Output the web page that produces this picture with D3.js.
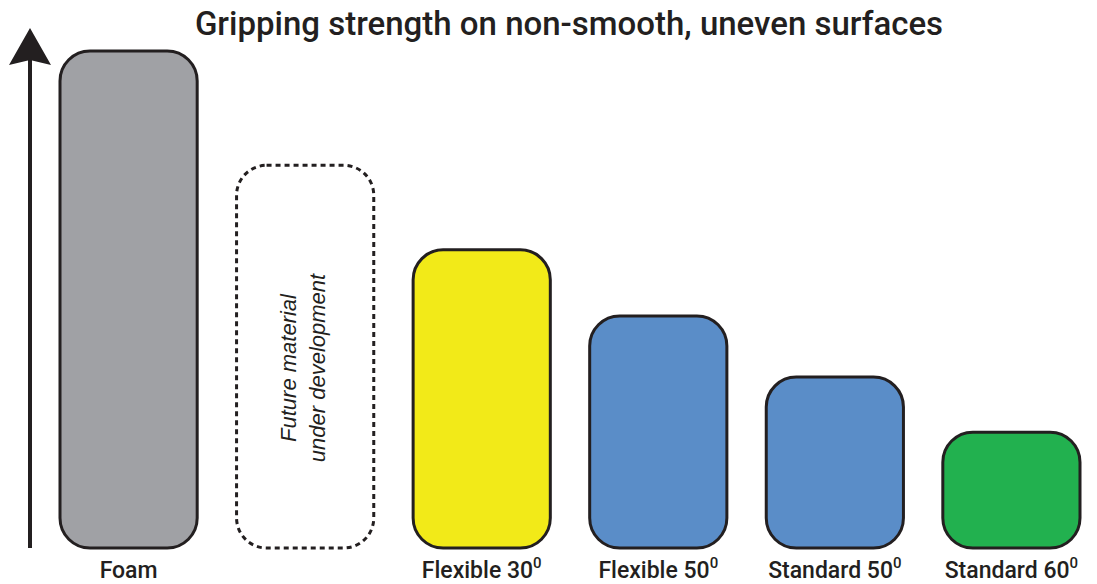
<!DOCTYPE html>
<html>
<head>
<meta charset="utf-8">
<script src="https://cdn.jsdelivr.net/npm/d3@7/dist/d3.min.js"></script>
<style>
  html, body { margin: 0; padding: 0; background: #fff; }
  text { font-family: Roboto, "Liberation Sans", Arial, sans-serif; fill: #231f20; }
</style>
</head>
<body>
<div id="chart"></div>
<script>
// chart data
const categories = ["Foam", "Future", "Flexible 30", "Flexible 50", "Standard 50", "Standard 60"];
const labels = ["Foam", "", "Flexible 30", "Flexible 50", "Standard 50", "Standard 60"];
const superscripts = ["", "", "0", "0", "0", "0"];
const values = [100, 77, 60, 46.7, 34.4, 23.3];
const fills = ["#a0a1a5", "none", "#f2ea18", "#5a8dc8", "#5a8dc8", "#22b14f"];
const dashed = [false, true, false, false, false, false];
const title = "Gripping strength on non-smooth, uneven surfaces";
const noteLines = ["Future material", "under development"];

const width = 1097;
const height = 584;
const baseY = 548;

const svg = d3.select("#chart").append("svg")
    .attr("width", width)
    .attr("height", height);

const x = d3.scaleBand()
    .domain(categories)
    .range([60, 1080])
    .paddingInner(0.223)
    .paddingOuter(0);

const y = d3.scaleLinear()
    .domain([0, 100])
    .range([baseY, 51]);

// y arrow
svg.append("line")
    .attr("x1", 30).attr("x2", 30)
    .attr("y1", baseY).attr("y2", 60)
    .attr("stroke", "#231f20")
    .attr("stroke-width", 4);

svg.append("path")
    .attr("d", "M30,28 L51,65 L30,60 L9,65 Z")
    .attr("fill", "#231f20");

// bars
svg.append("g")
  .selectAll("rect")
  .data(categories)
  .join("rect")
    .attr("x", d => x(d))
    .attr("width", x.bandwidth())
    .attr("y", (d, i) => y(values[i]))
    .attr("height", (d, i) => baseY - y(values[i]))
    .attr("rx", 30)
    .attr("fill", (d, i) => fills[i] === "none" ? "#fff" : fills[i])
    .attr("stroke", "#231f20")
    .attr("stroke-width", 3)
    .attr("stroke-dasharray", (d, i) => dashed[i] ? "5,4" : null);

// category labels
const lab = svg.append("g")
  .selectAll("text")
  .data(categories)
  .join("text")
    .attr("x", d => x(d) + x.bandwidth() / 2)
    .attr("y", 578)
    .attr("text-anchor", "middle")
    .style("font-size", "23px")
    .style("font-weight", 500);

lab.append("tspan")
    .text((d, i) => labels[i]);

lab.append("tspan")
    .attr("dy", -10)
    .style("font-size", "15px")
    .text((d, i) => superscripts[i]);

// rotated note inside the dashed bar
const cx = x("Future") + x.bandwidth() / 2;
const note = svg.append("text")
    .attr("transform", `translate(${cx},368) rotate(-90)`)
    .attr("text-anchor", "middle")
    .style("font-family", "'Liberation Sans', Arial, sans-serif")
    .style("font-size", "22px")
    .style("font-style", "italic");

note.selectAll("tspan")
  .data(noteLines)
  .join("tspan")
    .attr("x", 0)
    .attr("y", (d, i) => i === 0 ? -9 : 20)
    .text(d => d);

// title
svg.append("text")
    .attr("x", 569)
    .attr("y", 35)
    .attr("text-anchor", "middle")
    .style("font-size", "33px")
    .style("font-weight", 500)
    .text(title);
</script>
</body>
</html>
